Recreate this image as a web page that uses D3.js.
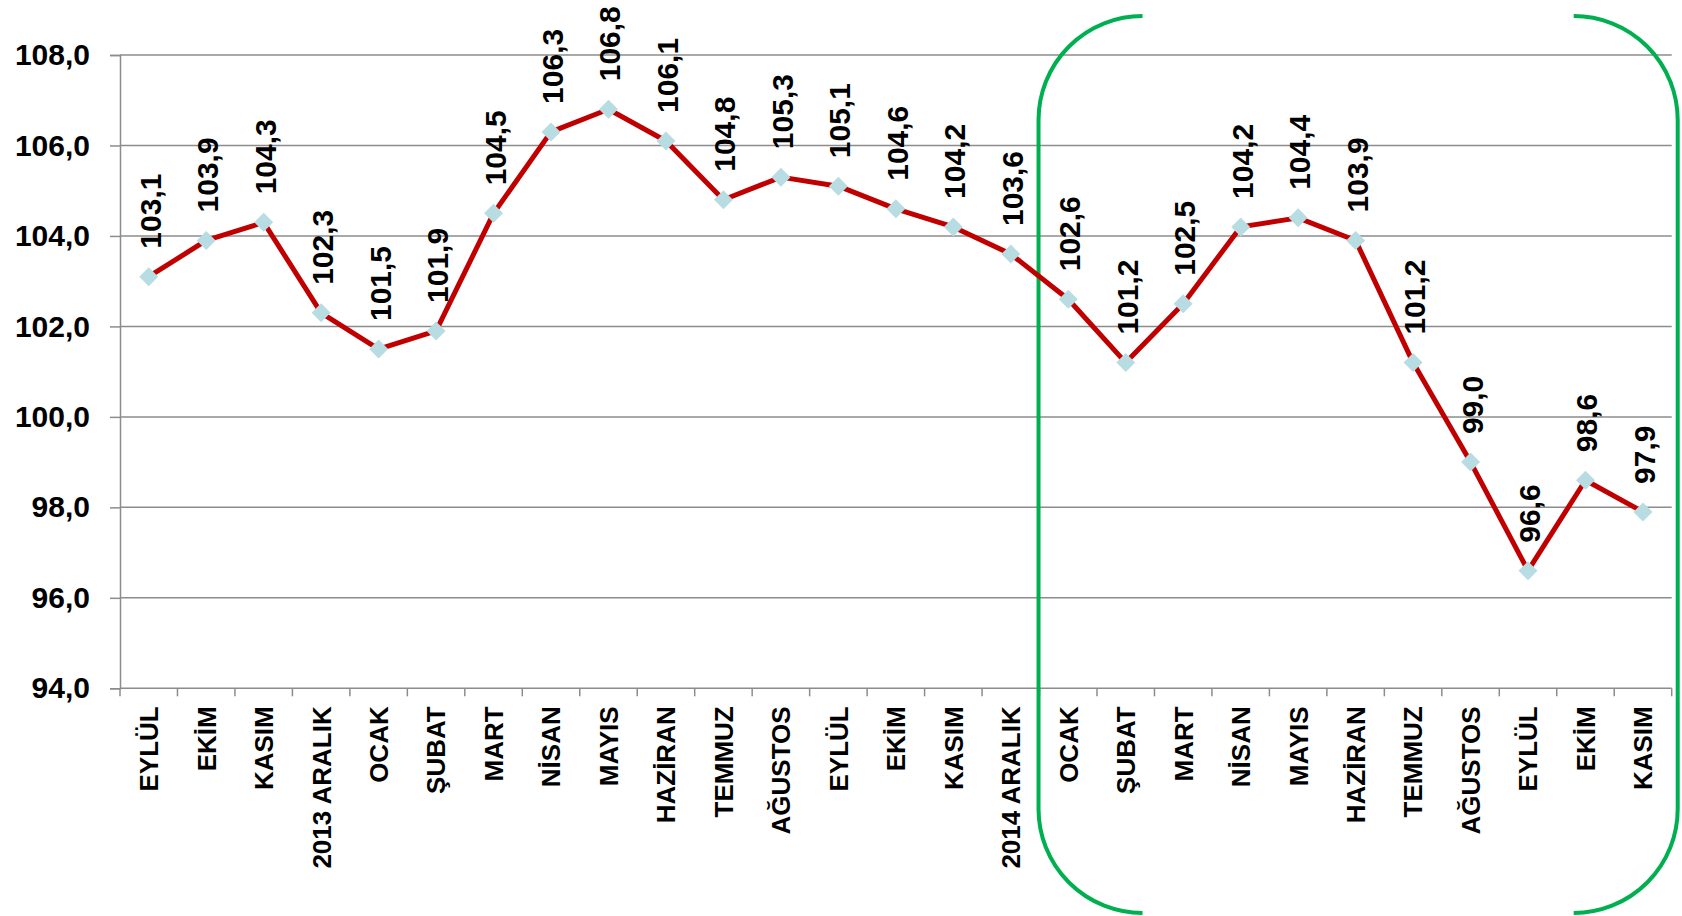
<!DOCTYPE html>
<html>
<head>
<meta charset="utf-8">
<script src="https://cdn.jsdelivr.net/npm/d3@7"></script>
<style>
  body { margin: 0; background: #fff; }
  text { font-family: "Liberation Sans", Arial, sans-serif; font-weight: bold; }
</style>
</head>
<body>
<div id="chart"></div>
<script>
// Monthly index, Sept 2013 - Nov 2015

const months = ["EYLÜL", "EKİM", "KASIM", "2013 ARALIK", "OCAK", "ŞUBAT", "MART", "NİSAN", "MAYIS",
  "HAZİRAN", "TEMMUZ", "AĞUSTOS", "EYLÜL", "EKİM", "KASIM", "2014 ARALIK", "OCAK", "ŞUBAT",
  "MART", "NİSAN", "MAYIS", "HAZİRAN", "TEMMUZ", "AĞUSTOS", "EYLÜL", "EKİM", "KASIM"];
const values = [103.1, 103.9, 104.3, 102.3, 101.5, 101.9, 104.5, 106.3, 106.8,
  106.1, 104.8, 105.3, 105.1, 104.6, 104.2, 103.6, 102.6, 101.2,
  102.5, 104.2, 104.4, 103.9, 101.2, 99.0, 96.6, 98.6, 97.9];
const yTicks = [94, 96, 98, 100, 102, 104, 106, 108];
const highlightStart = 16; // first month inside the green bracket

const width = 1682,
  height = 916,
  mLeft = 120,
  mRight = 1671.7,
  mTop = 55,
  mBottom = 688.3;

const fmt = d => d.toFixed(1).replace(".", ",");
const keys = months.map((m, i) => i);

const x = d3.scaleBand().domain(keys).range([mLeft, mRight]);
const y = d3.scaleLinear().domain([94, 108]).range([mBottom, mTop]);

const svg = d3.select("#chart")
  .append("svg")
  .attr("width", width)
  .attr("height", height);

// gridlines
svg.append("g")
  .selectAll("line")
  .data(yTicks.slice(1))
  .join("line")
  .attr("x1", mLeft)
  .attr("x2", mRight)
  .attr("y1", d => y(d))
  .attr("y2", d => y(d))
  .attr("stroke", "#8c8c8c")
  .attr("stroke-width", 1.5);

// y axis
const yAxis = svg.append("g")
  .attr("transform", `translate(${mLeft},0)`)
  .call(d3.axisLeft(y).tickValues(yTicks).tickSize(10).tickFormat(fmt));
yAxis.select(".domain").attr("stroke", "#8c8c8c").attr("stroke-width", 1.5);
yAxis.selectAll(".tick line").attr("stroke", "#8c8c8c").attr("stroke-width", 1.5);
yAxis.selectAll("text")
  .attr("x", -30)
  .attr("font-size", 30)
  .attr("fill", "#000")
  .style("font-family", "'Liberation Sans', Arial, sans-serif")
  .style("font-weight", "bold");

// x axis: ticks on band edges
const xg = svg.append("g");
xg.append("line")
  .attr("x1", mLeft).attr("x2", mRight)
  .attr("y1", mBottom).attr("y2", mBottom)
  .attr("stroke", "#8c8c8c").attr("stroke-width", 1.5);
xg.selectAll(".edge")
  .data(keys.concat([months.length]))
  .join("line")
  .attr("class", "edge")
  .attr("x1", d => mLeft + d * x.step())
  .attr("x2", d => mLeft + d * x.step())
  .attr("y1", mBottom)
  .attr("y2", mBottom + 8)
  .attr("stroke", "#8c8c8c").attr("stroke-width", 1.5);

xg.selectAll("text")
  .data(keys)
  .join("text")
  .attr("transform", d => `translate(${x(d) + x.bandwidth() / 2},${mBottom + 18}) rotate(-90)`)
  .attr("text-anchor", "end")
  .attr("dy", "0.36em")
  .attr("font-size", 26)
  .attr("fill", "#000")
  .text(d => months[d]);

// green bracket around the last year
const bx0 = mLeft + highlightStart * x.step() - 1,
  bx1 = mRight + 6,
  by0 = 16,
  by1 = 913,
  r = 104;
const bracket = svg.append("g")
  .attr("fill", "none")
  .attr("stroke", "#00b050")
  .attr("stroke-width", 4);
bracket.append("path")
  .attr("d", `M${bx0 + r},${by0} A${r},${r} 0 0 0 ${bx0},${by0 + r} L${bx0},${by1 - r} A${r},${r} 0 0 0 ${bx0 + r},${by1}`);
bracket.append("path")
  .attr("d", `M${bx1 - r},${by0} A${r},${r} 0 0 1 ${bx1},${by0 + r} L${bx1},${by1 - r} A${r},${r} 0 0 1 ${bx1 - r},${by1}`);

// line
const line = d3.line()
  .x((d, i) => x(i) + x.bandwidth() / 2)
  .y(d => y(d));

svg.append("path")
  .datum(values)
  .attr("fill", "none")
  .attr("stroke", "#c00000")
  .attr("stroke-width", 5)
  .attr("stroke-linejoin", "round")
  .attr("d", line);

// diamond markers
svg.append("g")
  .selectAll("path")
  .data(values)
  .join("path")
  .attr("transform", (d, i) => `translate(${x(i) + x.bandwidth() / 2},${y(d)})`)
  .attr("d", d3.symbol(d3.symbolDiamond2, 230))
  .attr("fill", "#b7dde3");

// value labels
svg.append("g")
  .selectAll("text")
  .data(values)
  .join("text")
  .attr("transform", (d, i) => `translate(${x(i) + x.bandwidth() / 2},${y(d) - 28}) rotate(-90)`)
  .attr("dy", "0.4em")
  .attr("font-size", 30)
  .attr("fill", "#000")
  .text(fmt);
</script>
</body>
</html>
